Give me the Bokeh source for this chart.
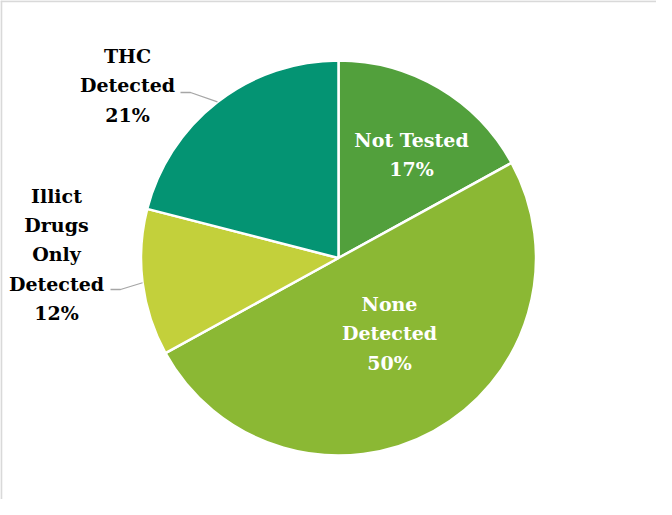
import math
from bokeh.plotting import figure
from bokeh.models import ColumnDataSource, Span
from bokeh.core.properties import value
from bokeh.embed import file_html
from bokeh.resources import INLINE

# ---- data ----
categories = ["Not Tested", "None Detected", "Illicit Drugs Only Detected", "THC Detected"]
label_text = ["Not Tested\n17%", "None\nDetected\n50%", "Illict\nDrugs\nOnly\nDetected\n12%", "THC\nDetected\n21%"]
shares = [17, 50, 12, 21]
colors = ["#52A03C", "#8BB834", "#C3D03B", "#049473"]
label_colors = ["white", "white", "black", "black"]

# ---- layout (page pixels) ----
W, H = 656, 499
OX, OY = 8, 8
def dx(px):
    return px - OX
def dy(py):
    return OY + H - py

cx, cy, R = dx(346), dy(265.5), 197.5
# label anchors (page px) for each category
label_pos = [(419, 162), (397, 341), (64, 262), (135, 93)]
outside = [False, False, True, True]
elbow = [None, None, (118, 128, 297), (188, 198, 100)]

total = float(sum(shares))
starts, ends, mids = [], [], []
acc = 0.0
for s in shares:
    a0 = math.pi / 2 - 2 * math.pi * acc / total
    acc += s
    a1 = math.pi / 2 - 2 * math.pi * acc / total
    starts.append(a0)
    ends.append(a1)
    mids.append((a0 + a1) / 2)

src = ColumnDataSource(dict(cat=categories, start=starts, end=ends, color=colors))

p = figure(width=W, height=H, x_range=(0, W), y_range=(0, H),
           output_backend="svg", toolbar_location=None, min_border=0)
p.axis.visible = False
p.grid.visible = False
p.outline_line_color = None
p.background_fill_color = "white"
p.border_fill_color = "white"

p.wedge(x=cx, y=cy, radius=R, start_angle="start", end_angle="end", direction="clock",
        fill_color="color", line_color="white", line_width=2.5, source=src)

# leader lines for outside labels
for i in range(len(categories)):
    if outside[i]:
        x0, x1, yy = elbow[i]
        ex = cx + R * math.cos(mids[i])
        ey = cy + R * math.sin(mids[i])
        p.line([dx(x0), dx(x1), ex], [dy(yy), dy(yy), ey], line_color="#A6A6A6", line_width=1.3)

lsrc = ColumnDataSource(dict(x=[dx(a) for a, b in label_pos], y=[dy(b) for a, b in label_pos],
                             t=label_text, c=label_colors))
p.text(x="x", y="y", text="t", text_color="c", source=lsrc,
       text_font=value("DejaVu Serif"), text_font_style="bold", text_font_size="19px",
       text_align="center", text_baseline="middle", text_line_height=1.34)

# chart frame (top and left edges visible)
p.add_layout(Span(location=0.8, dimension="height", line_color="#D9D9D9", line_width=2))
p.add_layout(Span(location=H - 0.8, dimension="width", line_color="#D9D9D9", line_width=2))

open("out.html", "w").write(file_html(p, INLINE))
